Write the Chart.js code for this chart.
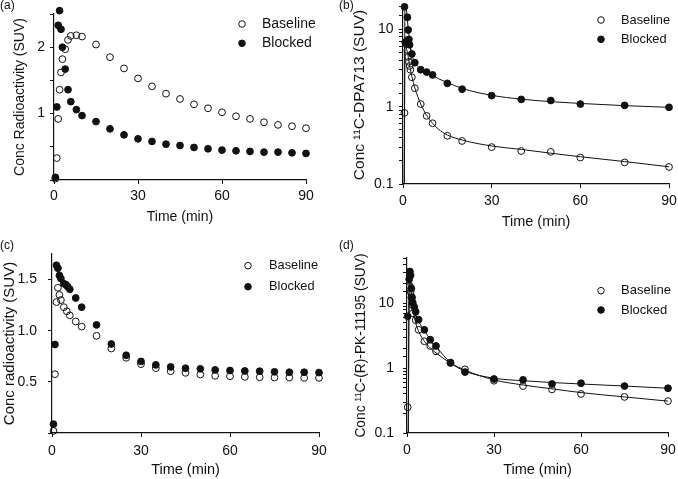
<!DOCTYPE html>
<html><head><meta charset="utf-8">
<script src="https://cdn.jsdelivr.net/npm/chart.js@4/dist/chart.umd.min.js"></script>
<style>
html,body{margin:0;padding:0;background:#fff;}
#wrap{position:relative;width:678px;height:479px;overflow:hidden;}
canvas{position:absolute;display:block;}
</style></head><body>
<div id="wrap">
<canvas id="ca" width="339" height="240" style="left:0;top:0"></canvas>
<canvas id="cb" width="339" height="240" style="left:339px;top:0"></canvas>
<canvas id="cc" width="339" height="239" style="left:0;top:240px"></canvas>
<canvas id="cd" width="339" height="239" style="left:339px;top:240px"></canvas>
</div>
<script>
// ---------- data ----------
const xTickValues = [0, 30, 60, 90];
const seriesNames = ['Baseline', 'Blocked'];

// (a) Conc radioactivity, SUV
const aBaseTime  = [0.5, 1, 1.5, 2, 2.5, 3, 4, 5, 6, 8, 10, 15, 20, 25, 30, 35, 40, 45, 50, 55, 60, 65, 70, 75, 80, 85, 90];
const aBaseline  = [0.02, 0.33, 0.92, 1.36, 1.62, 1.82, 1.97, 2.11, 2.17, 2.18, 2.16, 2.04, 1.85, 1.68, 1.53, 1.41, 1.30, 1.22, 1.14, 1.08, 1.02, 0.96, 0.92, 0.87, 0.83, 0.81, 0.78];
const aBlockTime = [0.5, 1, 1.5, 2, 2.5, 3, 4, 5, 6, 8, 10, 15, 20, 25, 30, 35, 40, 45, 50, 55, 60, 65, 70, 75, 80, 85, 90];
const aBlocked   = [0.04, 1.10, 2.33, 2.55, 2.27, 2.00, 1.67, 1.36, 1.18, 1.06, 0.97, 0.88, 0.77, 0.68, 0.62, 0.58, 0.54, 0.52, 0.49, 0.47, 0.45, 0.44, 0.43, 0.42, 0.42, 0.41, 0.40];

// (b) 11C-DPA713 parent, SUV (log)
const bBaseTime  = [0.5, 1, 1.5, 1.75, 2, 2.25, 2.5, 3, 4, 6, 8, 10, 15, 20, 30, 40, 50, 60, 75, 90];
const bBaseline  = [0.83, 6.5, 5.4, 4.4, 3.8, 3.35, 3.0, 2.4, 1.73, 1.08, 0.76, 0.61, 0.42, 0.36, 0.30, 0.267, 0.26, 0.22, 0.19, 0.166];
const bBlockTime = [0.5, 0.75, 1.5, 1.75, 2, 2.25, 3, 4, 6, 8, 10, 15, 20, 30, 40, 50, 60, 75, 90];
const bBlocked   = [19.5, 6.8, 14.3, 9.8, 7.4, 6.3, 4.8, 3.7, 3.0, 2.8, 2.57, 2.0, 1.68, 1.39, 1.24, 1.20, 1.08, 1.04, 0.98];
const bFitTime   = [0.4, 0.7, 1, 1.5, 2, 2.5, 3, 4, 5, 6, 8, 10, 12, 15, 20, 30, 40, 50, 60, 75, 90];
const bBaseFit   = [0.05, 8, 6.2, 5.0, 3.9, 3.0, 2.45, 1.75, 1.35, 1.08, 0.77, 0.61, 0.51, 0.43, 0.37, 0.31, 0.28, 0.25, 0.225, 0.195, 0.167];
const bBlockFit  = [0.05, 25, 21, 13, 8.5, 6.0, 4.7, 3.7, 3.3, 3.05, 2.78, 2.55, 2.3, 2.05, 1.72, 1.40, 1.25, 1.16, 1.10, 1.03, 0.98];

// (c) Conc radioactivity, SUV
const cBaseTime  = [0.5, 1, 1.5, 2, 2.5, 3, 4, 5, 6, 8, 10, 15, 20, 25, 30, 35, 40, 45, 50, 55, 60, 65, 70, 75, 80, 85, 90];
const cBaseline  = [0.02, 0.575, 1.28, 1.42, 1.35, 1.30, 1.23, 1.19, 1.15, 1.09, 1.04, 0.95, 0.826, 0.735, 0.673, 0.634, 0.604, 0.588, 0.572, 0.559, 0.555, 0.549, 0.545, 0.542, 0.542, 0.539, 0.539];
const cBlockTime = [0.5, 1, 1.5, 2, 2.5, 3, 4, 4.7, 5.3, 6, 8, 10, 15, 20, 25, 30, 35, 40, 45, 50, 55, 60, 65, 70, 75, 80, 85, 90];
const cBlocked   = [0.087, 0.865, 1.64, 1.61, 1.54, 1.51, 1.46, 1.45, 1.43, 1.405, 1.32, 1.23, 1.057, 0.87, 0.76, 0.70, 0.666, 0.646, 0.633, 0.627, 0.617, 0.611, 0.607, 0.604, 0.598, 0.594, 0.594, 0.591];

// (d) 11C-(R)-PK-11195 parent, SUV (log)
const dBaseTime  = [0.25, 1, 1.25, 1.5, 1.75, 2, 3, 4, 6, 8, 10, 15, 20, 30, 40, 50, 60, 75, 90];
const dBaseline  = [0.25, 18.5, 15, 12.3, 9.5, 7.0, 5.5, 3.9, 2.6, 2.2, 1.82, 1.2, 0.96, 0.64, 0.53, 0.47, 0.40, 0.36, 0.31];
const dBlockTime = [0.25, 0.75, 1, 1.25, 1.5, 1.75, 2, 2.5, 3, 4, 6, 8, 10, 15, 20, 30, 40, 50, 60, 75, 90];
const dBlocked   = [6.3, 23.5, 31, 27, 17, 12.3, 10.2, 8.8, 7.4, 5.6, 3.9, 2.75, 2.2, 1.22, 0.87, 0.68, 0.66, 0.57, 0.585, 0.53, 0.49];
const dFitTime   = [0.4, 0.8, 1.2, 1.5, 2, 3, 4, 6, 8, 10, 15, 20, 30, 40, 50, 60, 75, 90];
const dBaseFit   = [0.05, 25, 18, 13, 8.5, 5.0, 3.7, 2.6, 2.05, 1.72, 1.2, 0.93, 0.66, 0.55, 0.48, 0.42, 0.36, 0.31];
const dBlockFit  = [0.05, 32, 28, 18, 11, 7.0, 5.3, 3.8, 2.75, 2.15, 1.22, 0.90, 0.70, 0.64, 0.60, 0.57, 0.53, 0.49];

// ---------- rendering ----------
const FONT = '"Liberation Sans", Arial, Helvetica, sans-serif';
const INK = '#111';
Chart.defaults.font.family = FONT;
Chart.defaults.color = INK;
Chart.defaults.animation = false;

const pts = (xs, ys) => xs.map((x, i) => ({x: x, y: ys[i]}));

function pointSet(label, xs, ys, filled) {
  return {
    label: label, data: pts(xs, ys), showLine: false,
    pointRadius: 3.4, pointHoverRadius: 3.4, pointBorderWidth: 1,
    pointBorderColor: INK, pointBackgroundColor: filled ? INK : 'rgba(0,0,0,0)',
    clip: false, order: 0, isSeries: true, filled: filled
  };
}
function fitSet(label, xs, ys) {
  return {
    label: label, data: pts(xs, ys), showLine: true, pointRadius: 0, pointHoverRadius: 0,
    borderColor: INK, borderWidth: 1, cubicInterpolationMode: 'monotone', fill: false, order: 1
  };
}

const isPow10 = v => Math.abs(Math.log10(v) - Math.round(Math.log10(v))) < 1e-6;

const decor = {
  id: 'decor',
  afterDraw(chart, args, o) {
    const ctx = chart.ctx;
    ctx.save();
    ctx.fillStyle = INK;
    ctx.font = '12px ' + FONT;
    ctx.textAlign = 'left';
    ctx.textBaseline = 'alphabetic';
    ctx.fillText(o.label, 0, 9);
    let i = 0;
    chart.data.datasets.forEach(ds => {
      if (!ds.isSeries) return;
      const y = o.ly + i * o.gap;
      ctx.beginPath();
      ctx.arc(o.lx, y, 3.3, 0, Math.PI * 2);
      ctx.lineWidth = 1;
      ctx.strokeStyle = INK;
      if (ds.filled) { ctx.fillStyle = INK; ctx.fill(); }
      ctx.stroke();
      ctx.fillStyle = INK;
      ctx.font = o.lfont + 'px ' + FONT;
      ctx.textBaseline = 'middle';
      ctx.fillText(ds.label, o.tx, y);
      i++;
    });
    ctx.restore();
  }
};

function makePanel(id, p) {
  const canvas = document.getElementById(id);
  const W = canvas.width, H = canvas.height;
  const a = p.area;
  const yBase = {
    grid: {display: true, drawOnChartArea: false, drawTicks: true, tickLength: 4, tickColor: INK, tickWidth: 1},
    border: {display: true, color: INK, width: 1.2},
    title: {display: true, text: p.yTitle, font: {size: p.yTitleSize}, color: INK, padding: {top: p.yTitlePad, bottom: 0}},
    afterFit: s => { s.width = a.l; s.paddingTop = 0; s.paddingBottom = 0; }
  };
  const yScale = Object.assign({}, yBase, p.y);
  yScale.ticks = Object.assign({autoSkip: false, font: {size: p.tickSize}, color: INK, padding: p.yTickPad}, p.y.ticks || {});
  new Chart(canvas, {
    type: 'scatter',
    data: {datasets: p.datasets},
    options: {
      responsive: false, maintainAspectRatio: false, devicePixelRatio: 1,
      layout: {autoPadding: false, padding: {left: 0, top: a.t, right: W - a.r, bottom: 0}},
      plugins: {legend: {display: false}, tooltip: {enabled: false}, decor: p.decor},
      scales: {
        x: {
          type: 'linear', min: 0, max: 90,
          afterBuildTicks: s => { s.ticks = xTickValues.map(v => ({value: v})); },
          ticks: {autoSkip: false, maxRotation: 0, font: {size: p.tickSize}, color: INK, padding: p.xTickPad},
          grid: {display: true, drawOnChartArea: false, drawTicks: true, tickLength: 4, tickColor: INK, tickWidth: 1},
          border: {display: true, color: INK, width: 1.2},
          title: {display: true, text: 'Time (min)', font: {size: p.xTitleSize}, color: INK, padding: {top: 0, bottom: p.xTitlePad}},
          afterFit: s => { s.height = H - a.b; s.paddingLeft = 0; s.paddingRight = 0; }
        },
        y: yScale
      }
    },
    plugins: [decor]
  });
}

makePanel('ca', {
  area: {l: 54, t: 14, r: 306, b: 180},
  yTitle: 'Conc Radioactivity (SUV)', yTitleSize: 14, xTitleSize: 14, tickSize: 14,
  yTitlePad: 11.6, xTitlePad: 14, yTickPad: 5, xTickPad: 3.5,
  y: {type: 'linear', min: 0, max: 2.5,
      ticks: {stepSize: 0.5, callback: v => (Math.abs(v - 1) < 1e-9 || Math.abs(v - 2) < 1e-9) ? String(v) : ''}},
  datasets: [pointSet(seriesNames[0], aBaseTime, aBaseline, false), pointSet(seriesNames[1], aBlockTime, aBlocked, true)],
  decor: {label: '(a)', lx: 242, tx: 262, ly: 24, gap: 19.3, lfont: 14}
});

makePanel('cb', {
  area: {l: 64, t: 6, r: 330, b: 184},
  yTitle: 'Conc \u00B9\u00B9C-DPA713 (SUV)', yTitleSize: 15.5, xTitleSize: 14.5, tickSize: 14,
  yTitlePad: 11.5, xTitlePad: 9, yTickPad: 5.5, xTickPad: 5,
  y: {type: 'logarithmic', min: 0.1, max: 20,
      ticks: {callback: v => isPow10(v) ? String(v) : ''}},
  datasets: [pointSet(seriesNames[0], bBaseTime, bBaseline, false), pointSet(seriesNames[1], bBlockTime, bBlocked, true),
             fitSet('Baseline fit', bFitTime, bBaseFit), fitSet('Blocked fit', bFitTime, bBlockFit)],
  decor: {label: '(b)', lx: 262, tx: 282, ly: 20, gap: 19.3, lfont: 12.8}
});

makePanel('cc', {
  area: {l: 52, t: 14, r: 319, b: 193},
  yTitle: 'Conc radioactivity (SUV)', yTitleSize: 15, xTitleSize: 14.5, tickSize: 14,
  yTitlePad: 1, xTitlePad: 0.6, yTickPad: 11, xTickPad: 6,
  y: {type: 'linear', min: 0, max: 1.75,
      afterBuildTicks: s => { s.ticks = s.ticks.filter(t => t.value <= 1.5 + 1e-9); },
      ticks: {stepSize: 0.5, callback: v => v === 0 ? '' : Number(v).toFixed(1)}},
  datasets: [pointSet(seriesNames[0], cBaseTime, cBaseline, false), pointSet(seriesNames[1], cBlockTime, cBlocked, true)],
  decor: {label: '(c)', lx: 248, tx: 269, ly: 25.7, gap: 21, lfont: 12.8}
});

makePanel('cd', {
  area: {l: 68, t: 18, r: 329, b: 193},
  yTitle: 'Conc \u00B9\u00B9C-(R)-PK-11195 (SUV)', yTitleSize: 13.8, xTitleSize: 14.5, tickSize: 14,
  yTitlePad: 13.5, xTitlePad: 0, yTickPad: 9, xTickPad: 4.6,
  y: {type: 'logarithmic', min: 0.1, max: 50,
      ticks: {callback: v => isPow10(v) ? String(v) : ''}},
  datasets: [pointSet(seriesNames[0], dBaseTime, dBaseline, false), pointSet(seriesNames[1], dBlockTime, dBlocked, true),
             fitSet('Baseline fit', dFitTime, dBaseFit), fitSet('Blocked fit', dFitTime, dBlockFit)],
  decor: {label: '(d)', lx: 262, tx: 282, ly: 50.7, gap: 19.3, lfont: 13}
});
</script>
</body></html>
